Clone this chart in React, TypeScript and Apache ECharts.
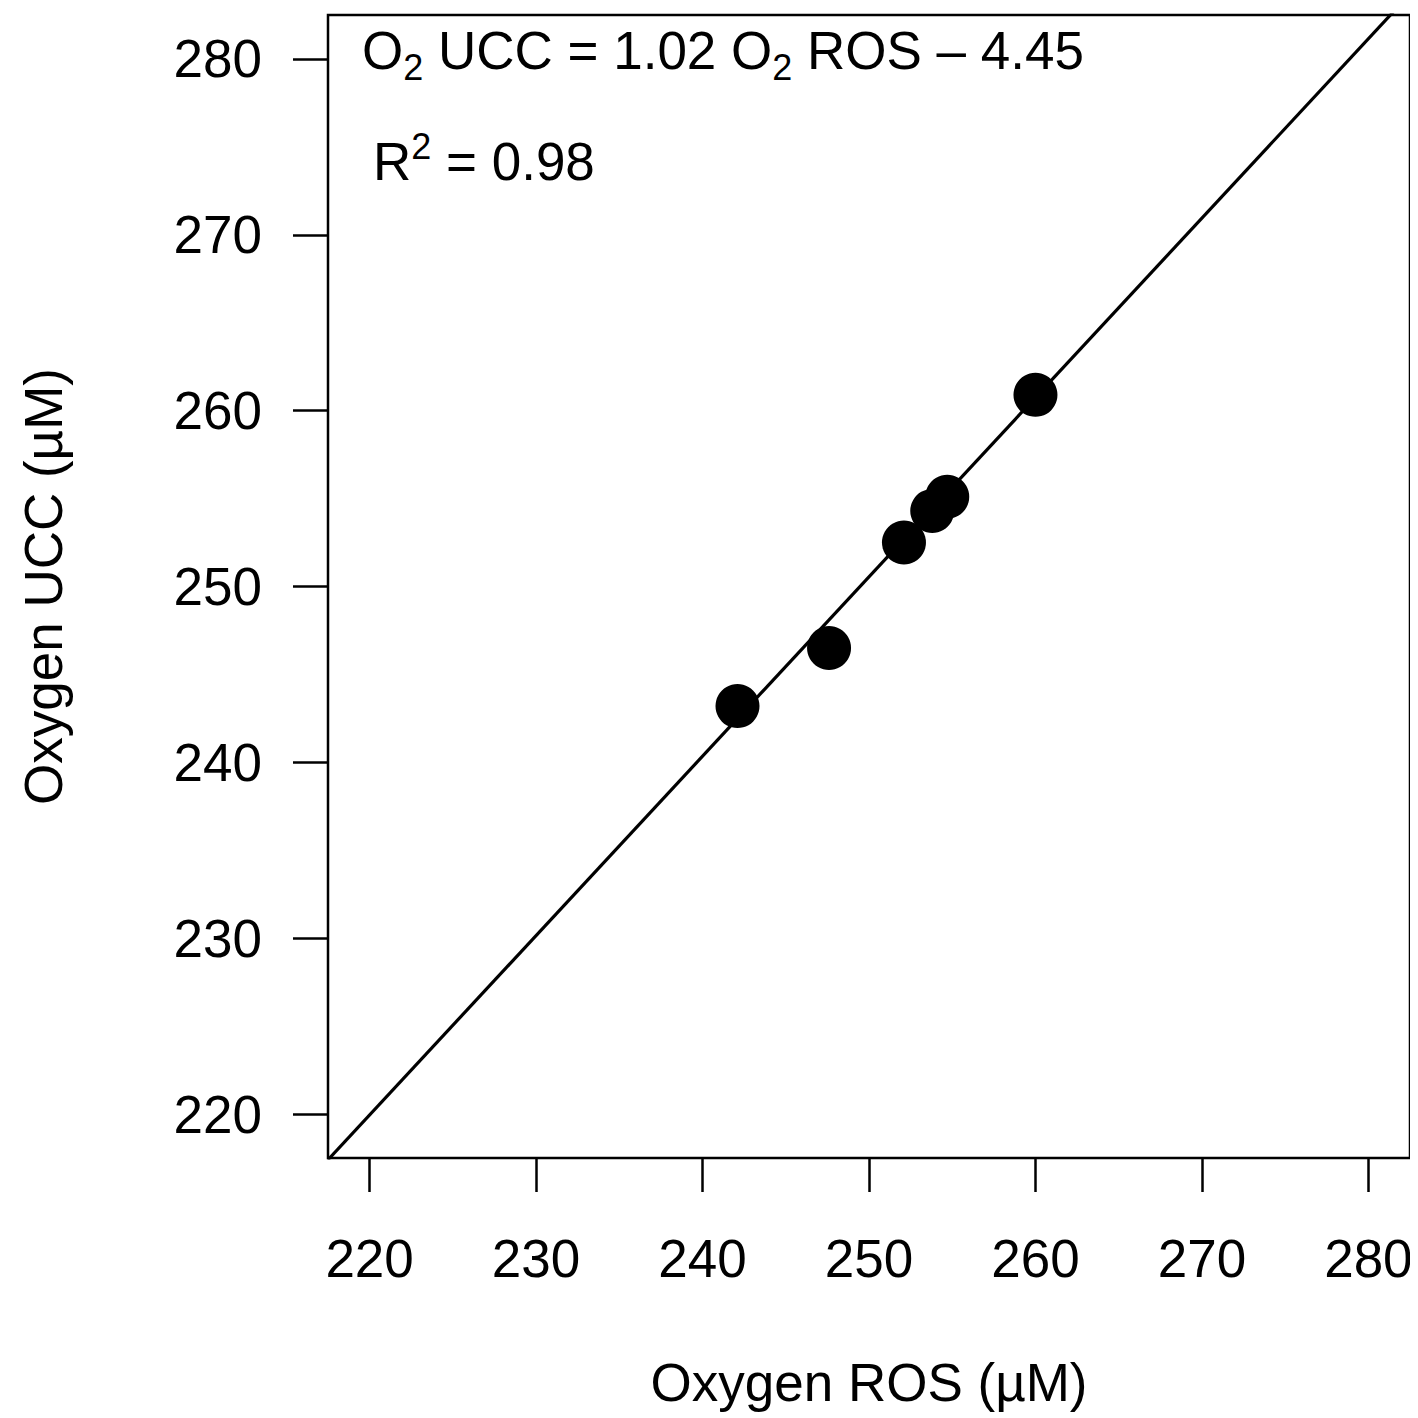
import React, { useEffect, useRef } from "react";
import * as echarts from "echarts";

const xTicks = [220, 230, 240, 250, 260, 270, 280];
const yTicks = [220, 230, 240, 250, 260, 270, 280];
const rosValues = [242.1, 247.6, 252.1, 253.8, 254.7, 260.0];
const uccValues = [243.2, 246.5, 252.5, 254.3, 255.1, 260.9];
const fitSlope = 1.02;
const fitIntercept = -4.45;
const axisMin = 217.5;
const axisMax = 282.5;

const FONT = "'Liberation Sans', Arial, Helvetica, sans-serif";
const FS = 53;

export default function App() {
  const ref = useRef<HTMLDivElement>(null);
  useEffect(() => {
    if (!ref.current) return;
    const chart = echarts.init(ref.current, null, { renderer: "svg" });
    const points = rosValues.map((x, i) => [x, uccValues[i]]);
    const fitLine = [axisMin, axisMax].map((x) => [x, fitSlope * x + fitIntercept]);
    chart.setOption({
      animation: false,
      backgroundColor: "#ffffff",
      textStyle: { fontFamily: FONT, color: "#000" },
      grid: {
        left: 328,
        right: 8,
        top: 15,
        bottom: 260,
        show: true,
        borderColor: "#000",
        borderWidth: 2.5,
        backgroundColor: "transparent",
      },
      xAxis: {
        type: "value",
        min: axisMin,
        max: axisMax,
        name: "Oxygen ROS (\u00b5M)",
        nameLocation: "middle",
        nameGap: 198,
        nameTextStyle: { fontSize: FS, fontFamily: FONT, color: "#000" },
        axisLine: { show: false },
        splitLine: { show: false },
        axisTick: {
          show: true,
          length: 34,
          inside: false,
          customValues: xTicks,
          lineStyle: { color: "#000", width: 2.5 },
        },
        axisLabel: {
          show: true,
          customValues: xTicks,
          margin: 74,
          fontSize: FS,
          fontFamily: FONT,
          color: "#000",
        },
      },
      yAxis: {
        type: "value",
        min: axisMin,
        max: axisMax,
        name: "Oxygen UCC (\u00b5M)",
        nameLocation: "middle",
        nameGap: 258,
        nameTextStyle: { fontSize: FS, fontFamily: FONT, color: "#000" },
        axisLine: { show: false },
        splitLine: { show: false },
        axisTick: {
          show: true,
          length: 35,
          inside: false,
          customValues: yTicks,
          lineStyle: { color: "#000", width: 2.5 },
        },
        axisLabel: {
          show: true,
          customValues: yTicks,
          margin: 66,
          fontSize: FS,
          fontFamily: FONT,
          color: "#000",
        },
      },
      series: [
        {
          type: "line",
          data: fitLine,
          showSymbol: false,
          symbol: "none",
          clip: true,
          lineStyle: { color: "#000", width: 3.2 },
          z: 2,
        },
        {
          type: "scatter",
          data: points,
          symbol: "circle",
          symbolSize: 44,
          itemStyle: { color: "#000", opacity: 1 },
          z: 3,
        },
      ],
      graphic: [
        {
          type: "text",
          left: 362,
          top: 24,
          style: {
            text: "{m|O}{s|2}{m| UCC = 1.02 O}{s|2}{m| ROS \u2013 4.45}",
            fontFamily: FONT,
            rich: {
              m: { fontSize: FS, fontFamily: FONT, color: "#000", lineHeight: 62 },
              s: { fontSize: 36, fontFamily: FONT, color: "#000", padding: [34, 0, 0, 0] },
            },
          },
        },
        {
          type: "text",
          left: 373,
          top: 128,
          style: {
            text: "{m|R}{p|2}{m| = 0.98}",
            fontFamily: FONT,
            rich: {
              m: { fontSize: FS, fontFamily: FONT, color: "#000", lineHeight: 62 },
              p: { fontSize: 36, fontFamily: FONT, color: "#000", padding: [0, 0, 30, 0] },
            },
          },
        },
      ],
    });
    return () => chart.dispose();
  }, []);
  return <div ref={ref} style={{ width: 1418, height: 1418, marginLeft: -8, marginTop: -8 }} />;
}
